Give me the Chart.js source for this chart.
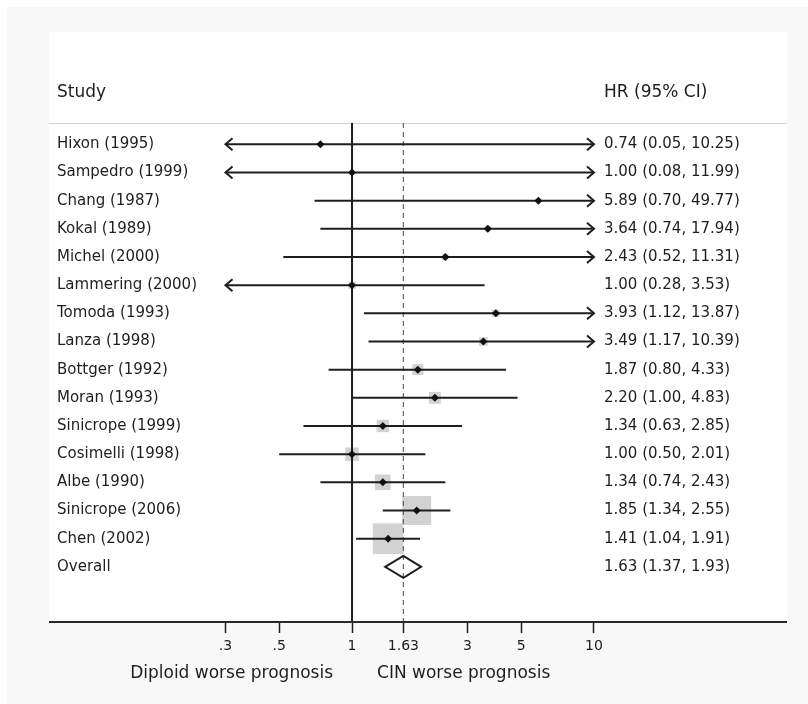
<!DOCTYPE html>
<html>
<head>
<meta charset="utf-8">
<script src="https://cdn.jsdelivr.net/npm/chart.js@4.4.1/dist/chart.umd.min.js"></script>
<style>
    html, body { margin: 0; padding: 0; background: #ffffff; }
    #forest-chart { display: block; }
</style>
</head>
<body>
<canvas id="forest-chart" width="808" height="704"></canvas>
<script>
const studies = [
    'Hixon (1995)', 'Sampedro (1999)', 'Chang (1987)', 'Kokal (1989)', 'Michel (2000)',
    'Lammering (2000)', 'Tomoda (1993)', 'Lanza (1998)', 'Bottger (1992)', 'Moran (1993)',
    'Sinicrope (1999)', 'Cosimelli (1998)', 'Albe (1990)', 'Sinicrope (2006)', 'Chen (2002)'
];
const hr    = [0.74, 1.00, 5.89, 3.64, 2.43, 1.00, 3.93, 3.49, 1.87, 2.20, 1.34, 1.00, 1.34, 1.85, 1.41];
const lower = [0.05, 0.08, 0.70, 0.74, 0.52, 0.28, 1.12, 1.17, 0.80, 1.00, 0.63, 0.50, 0.74, 1.34, 1.04];
const upper = [10.25, 11.99, 49.77, 17.94, 11.31, 3.53, 13.87, 10.39, 4.33, 4.83, 2.85, 2.01, 2.43, 2.55, 1.91];
const weights = [0.4, 0.5, 0.7, 1.2, 1.3, 1.9, 1.9, 2.5, 4.2, 4.8, 5.2, 6.2, 8.4, 28.8, 32.2];

const overallLabel = 'Overall';
const overallHr = 1.63;
const overallCi = [1.37, 1.93];

const xTicks = [0.3, 0.5, 1, 1.63, 3, 5, 10];
const xTickLabels = ['.3', '.5', '1', '1.63', '3', '5', '10'];
const clipRange = [0.3, 10];   // CIs running past these get an arrow

const leftNote = 'Diploid worse prognosis';
const rightNote = 'CIN worse prognosis';

const rowLabels = studies.concat([overallLabel]);
const hrLabels = hr.map((v, i) => `${v.toFixed(2)} (${lower[i].toFixed(2)}, ${upper[i].toFixed(2)})`)
    .concat([`${overallHr.toFixed(2)} (${overallCi[0].toFixed(2)}, ${overallCi[1].toFixed(2)})`]);
const rowTicks = rowLabels.map((_, i) => ({ value: i }));

const ink = '#1e1e1e';
const fontFamily = '"DejaVu Sans", sans-serif';
Chart.defaults.font.family = fontFamily;
Chart.defaults.color = ink;

// background panel, header row and the long axis line
const forestPanel = {
    id: 'forestPanel',
    beforeDraw(chart) {
        const { ctx, chartArea } = chart;
        ctx.save();
        ctx.fillStyle = '#f8f8f8';
        ctx.fillRect(7, 7, 801, 697);
        ctx.fillStyle = '#ffffff';
        ctx.fillRect(49, 32, 738, chartArea.bottom - 32);

        ctx.strokeStyle = '#d4d4d4';
        ctx.lineWidth = 1;
        ctx.beginPath();
        ctx.moveTo(49, chartArea.top + 0.5);
        ctx.lineTo(787, chartArea.top + 0.5);
        ctx.stroke();

        ctx.fillStyle = ink;
        ctx.font = '17px ' + fontFamily;
        ctx.textBaseline = 'middle';
        ctx.textAlign = 'left';
        ctx.fillText('Study', chart.scales.y.left, chartArea.top - 30);
        ctx.fillText('HR (95% CI)', chartArea.right + 4, chartArea.top - 30);
        ctx.restore();
    },
    afterDatasetDraw(chart, args) {
        if (args.index !== 0) return;
        const { ctx, chartArea } = chart;
        const xs = chart.scales.x;
        const ys = chart.scales.y;
        ctx.save();

        // null line and overall estimate line
        const x1 = xs.getPixelForValue(1);
        ctx.strokeStyle = ink;
        ctx.lineWidth = 2;
        ctx.beginPath();
        ctx.moveTo(x1, chartArea.top);
        ctx.lineTo(x1, chartArea.bottom);
        ctx.stroke();

        const xo = xs.getPixelForValue(overallHr);
        ctx.strokeStyle = '#666666';
        ctx.lineWidth = 1.2;
        ctx.setLineDash([5, 4]);
        ctx.beginPath();
        ctx.moveTo(xo, chartArea.top);
        ctx.lineTo(xo, chartArea.bottom);
        ctx.stroke();
        ctx.setLineDash([]);

        // confidence intervals
        ctx.strokeStyle = ink;
        ctx.lineWidth = 2;
        ctx.lineCap = 'butt';
        studies.forEach((s, i) => {
            const y = ys.getPixelForValue(i);
            const lo = Math.max(lower[i], clipRange[0]);
            const hi = Math.min(upper[i], clipRange[1]);
            const a = xs.getPixelForValue(lo);
            const b = xs.getPixelForValue(hi);
            ctx.beginPath();
            ctx.moveTo(a, y);
            ctx.lineTo(b, y);
            ctx.stroke();
            if (lower[i] < clipRange[0]) {
                ctx.beginPath();
                ctx.moveTo(a + 7, y - 6);
                ctx.lineTo(a, y);
                ctx.lineTo(a + 7, y + 6);
                ctx.stroke();
            }
            if (upper[i] > clipRange[1]) {
                ctx.beginPath();
                ctx.moveTo(b - 7, y - 6);
                ctx.lineTo(b, y);
                ctx.lineTo(b - 7, y + 6);
                ctx.stroke();
            }
        });

        // pooled diamond
        const yo = ys.getPixelForValue(studies.length);
        const dl = xs.getPixelForValue(overallCi[0]);
        const dr = xs.getPixelForValue(overallCi[1]);
        ctx.beginPath();
        ctx.moveTo(dl, yo);
        ctx.lineTo(xo, yo - 11);
        ctx.lineTo(dr, yo);
        ctx.lineTo(xo, yo + 11);
        ctx.closePath();
        ctx.stroke();

        ctx.restore();
    },
    afterDraw(chart) {
        const { ctx, chartArea } = chart;
        const xs = chart.scales.x;
        ctx.save();
        ctx.strokeStyle = '#2a2a2a';
        ctx.lineWidth = 2;
        ctx.beginPath();
        ctx.moveTo(49, chartArea.bottom);
        ctx.lineTo(787, chartArea.bottom);
        ctx.stroke();

        const x1 = xs.getPixelForValue(1);
        ctx.fillStyle = ink;
        ctx.font = '17px ' + fontFamily;
        ctx.textBaseline = 'middle';
        ctx.textAlign = 'right';
        ctx.fillText(leftNote, x1 - 19, chartArea.bottom + 52);
        ctx.textAlign = 'left';
        ctx.fillText(rightNote, x1 + 25, chartArea.bottom + 52);
        ctx.restore();
    }
};

const ctx = document.getElementById('forest-chart').getContext('2d');
new Chart(ctx, {
    type: 'scatter',
    data: {
        datasets: [
            {
                label: 'Weight',
                data: hr.map((v, i) => ({ x: v, y: i })),
                pointStyle: 'rect',
                pointRadius: c => 5.4 * Math.sqrt(weights[c.dataIndex]) / Math.SQRT2,
                pointBackgroundColor: '#d2d2d2',
                pointBorderWidth: 0,
                order: 2
            },
            {
                label: 'HR',
                data: hr.map((v, i) => ({ x: v, y: i })),
                pointStyle: 'rectRot',
                pointRadius: 4,
                pointBackgroundColor: '#111111',
                pointBorderWidth: 0,
                order: 1
            }
        ]
    },
    options: {
        responsive: false,
        animation: false,
        devicePixelRatio: 1,
        layout: { padding: { top: 123, left: 57, right: 21, bottom: 0 } },
        plugins: {
            legend: { display: false },
            tooltip: { enabled: false }
        },
        scales: {
            x: {
                type: 'logarithmic',
                position: 'bottom',
                min: 0.23535,
                max: 10.588,
                bounds: 'data',
                afterBuildTicks: scale => { scale.ticks = xTicks.map(v => ({ value: v })); },
                afterFit: scale => { scale.height = 82; },
                grid: {
                    drawOnChartArea: false,
                    drawTicks: true,
                    tickLength: 11,
                    tickColor: ink,
                    tickWidth: 1.5
                },
                border: { display: false },
                ticks: {
                    autoSkip: false,
                    maxRotation: 0,
                    padding: 5,
                    color: ink,
                    font: { size: 14 },
                    callback: value => xTickLabels[xTicks.indexOf(value)]
                }
            },
            y: {
                type: 'linear',
                position: 'left',
                reverse: true,
                min: -0.756,
                max: 16.958,
                bounds: 'data',
                afterBuildTicks: scale => { scale.ticks = rowTicks.map(t => ({ ...t })); },
                afterFit: scale => { scale.width = 143; },
                grid: { display: false, drawTicks: false },
                border: { display: false },
                ticks: {
                    autoSkip: false,
                    crossAlign: 'far',
                    padding: 0,
                    color: ink,
                    font: { size: 15 },
                    callback: value => rowLabels[value]
                }
            },
            y2: {
                type: 'linear',
                position: 'right',
                reverse: true,
                min: -0.756,
                max: 16.958,
                bounds: 'data',
                afterBuildTicks: scale => { scale.ticks = rowTicks.map(t => ({ ...t })); },
                afterFit: scale => { scale.width = 187; },
                grid: { display: false, drawTicks: false },
                border: { display: false },
                ticks: {
                    autoSkip: false,
                    crossAlign: 'near',
                    padding: 4,
                    color: ink,
                    font: { size: 15 },
                    callback: value => hrLabels[value]
                }
            }
        }
    },
    plugins: [forestPanel]
});
</script>
</body>
</html>
